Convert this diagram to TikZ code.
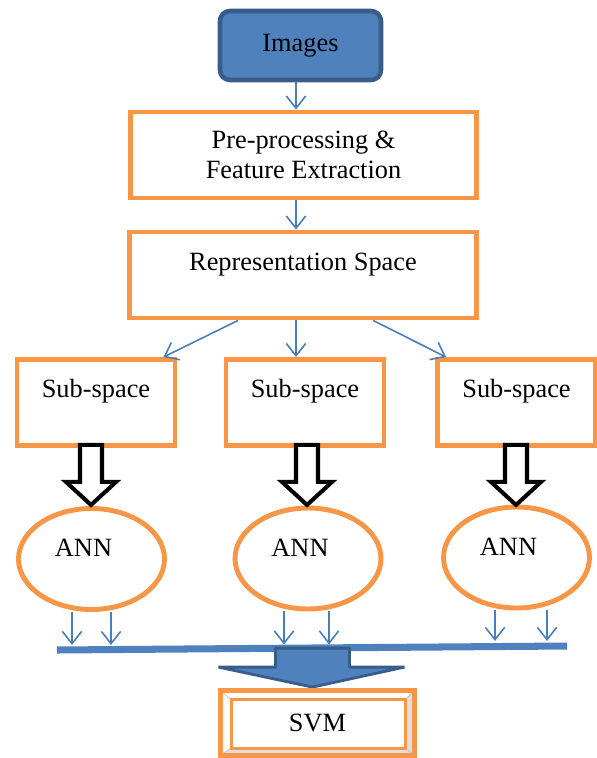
\documentclass[tikz,border=0pt]{standalone}
\usepackage{fontspec}
\setmainfont{Liberation Serif}
\usetikzlibrary{arrows.meta,calc,shapes.geometric}
\definecolor{boxorange}{HTML}{F79646}
\definecolor{boxblue}{HTML}{4F81BD}
\definecolor{darkblue}{HTML}{385D8A}
\definecolor{linkblue}{HTML}{4A7EBB}
\tikzset{
    every node/.style={font=\fontsize{15}{17}\selectfont},
    imgbox/.style={draw=darkblue, fill=boxblue, line width=2.6pt, rounded corners=0.2cm,
        minimum width=3.22cm, minimum height=1.38cm},
    stagebox/.style={draw=boxorange, line width=2.8pt, minimum width=6.93cm, minimum height=1.72cm},
    subbox/.style={draw=boxorange, line width=2.8pt, minimum width=3.16cm, minimum height=1.72cm,
        text height=0.35cm, text depth=0.55cm},
    annnode/.style={ellipse, draw=boxorange, line width=2.8pt, inner sep=0pt,
        minimum width=2.92cm, minimum height=2.02cm},
    flow/.style={draw=linkblue, line width=0.9pt, -{Straight Barb[length=7pt,width=11pt]}},
    hollow/.style={draw=black, fill=white, line width=2.3pt, line join=miter},
    bar/.style={draw=boxblue, line width=4pt},
    bigarrow/.style={draw=darkblue, fill=boxblue, line width=1.6pt, line join=bevel}
}

\begin{document}
\begin{tikzpicture}[x=0.02cm, y=-0.02cm]
    \useasboundingbox (0,0) rectangle (596,758);
    % define boxes
    \node[imgbox] (img) at (300.5,45.5) {Images};
    \node[stagebox, align=center] (prep) at (303.5,155) {Pre-processing \&\\Feature Extraction};
    \node[stagebox, text height=0.35cm, text depth=0.55cm] (rep_space) at (303,275) {Representation Space};
    % sub-spaces
    \node[subbox] (sub_left) at (96,402.5) {Sub-space};
    \node[subbox] (sub_mid) at (305,402.5) {Sub-space};
    \node[subbox] (sub_right) at (516.5,402.5) {Sub-space};
    % networks
    \node[annnode, label={[xshift=-0.16cm, yshift=0.22cm]center:ANN}] (ann_left) at (91.5,559) {};
    \node[annnode, label={[xshift=-0.16cm, yshift=0.22cm]center:ANN}] (ann_mid) at (308,558.5) {};
    \node[annnode, label={[xshift=-0.16cm, yshift=0.22cm]center:ANN}] (ann_right) at (516.5,557.5) {};
    % classifier
    \node[minimum width=3.88cm, minimum height=1.29cm] (svm) at (317.5,722.7) {SVM};
    \coordinate (bar_left) at (57,650);
    \coordinate (bar_right) at (567,646);
    \coordinate (big_tip) at ($(svm.north)+(-5,-3)$);
    % draw arrows
    \draw[flow] ($(img.south)+(-4.5,0)$) -- ($(prep.north)+(-7.5,0)$);
    \draw[flow] ($(prep.south)+(-7.5,0)$) -- ($(rep_space.north)+(-7,0)$);
    \draw[flow] ($(rep_space.south)+(-65,0)$) -- ($(sub_left.north east)+(-14,0)$);
    \draw[flow] ($(rep_space.south)+(-7,0)$) -- ($(sub_mid.north)+(-9,0)$);
    \draw[flow] ($(rep_space.south)+(70,0)$) -- ($(sub_right.north west)+(11,0)$);
    % thick hollow arrows
    \draw[hollow] (sub_left.south) ++(-16,-3) -- ++(0,37) -- ++(-14,0) -- ++(25,23) -- ++(25,-23) -- ++(-14,0) -- ++(0,-37) -- cycle;
    \draw[hollow] (sub_mid.south) ++(-9,-3) -- ++(0,37) -- ++(-14,0) -- ++(25,23) -- ++(25,-23) -- ++(-14,0) -- ++(0,-37) -- cycle;
    \draw[hollow] (sub_right.south) ++(-11.5,-3) -- ++(0,37) -- ++(-14,0) -- ++(25,23) -- ++(25,-23) -- ++(-14,0) -- ++(0,-37) -- cycle;
    % outputs to the bar
    \draw[flow] ($(ann_left.south)+(-19.5,0)$) -- ++(0,33);
    \draw[flow] ($(ann_left.south)+(19.5,0)$) -- ++(0,33);
    \draw[flow] ($(ann_mid.south)+(-24,0)$) -- ++(0,33);
    \draw[flow] ($(ann_mid.south)+(21,0)$) -- ++(0,33);
    \draw[flow] ($(ann_right.south)+(-21.5,0)$) -- ++(0,30.5);
    \draw[flow] ($(ann_right.south)+(30.5,0)$) -- ++(0,30.5);
    \draw[bar] (bar_left) -- (bar_right);
    \draw[bigarrow] (big_tip) -- ++(-94,-20) -- ++(57,0) -- ++(0,-19) -- ++(74,0) -- ++(0,19) -- ++(55,0) -- cycle;
    % bevelled frame of the svm box
    \fill[gray!25] (svm.north east) -- (svm.south east) -- ($(svm.south east)+(-9.5,-7)$) -- ($(svm.north east)+(-9.5,9.5)$) -- cycle;
    \fill[gray!25] (svm.south west) -- (svm.south east) -- ($(svm.south east)+(-9.5,-7)$) -- ($(svm.south west)+(11,-7)$) -- cycle;
    \draw[gray!50, line width=0.4pt] (svm.north west) -- ++(11,9.5);
    \draw[gray!50, line width=0.4pt] (svm.north east) -- ++(-9.5,9.5);
    \draw[gray!50, line width=0.4pt] (svm.south west) -- ++(11,-7);
    \draw[gray!50, line width=0.4pt] (svm.south east) -- ++(-9.5,-7);
    \draw[boxorange, line width=2.8pt] (svm.north west) rectangle (svm.south east);
    \draw[boxorange, line width=1.8pt] ($(svm.north west)+(11,9.5)$) rectangle ($(svm.south east)+(-9.5,-7)$);
\end{tikzpicture}
\end{document}
